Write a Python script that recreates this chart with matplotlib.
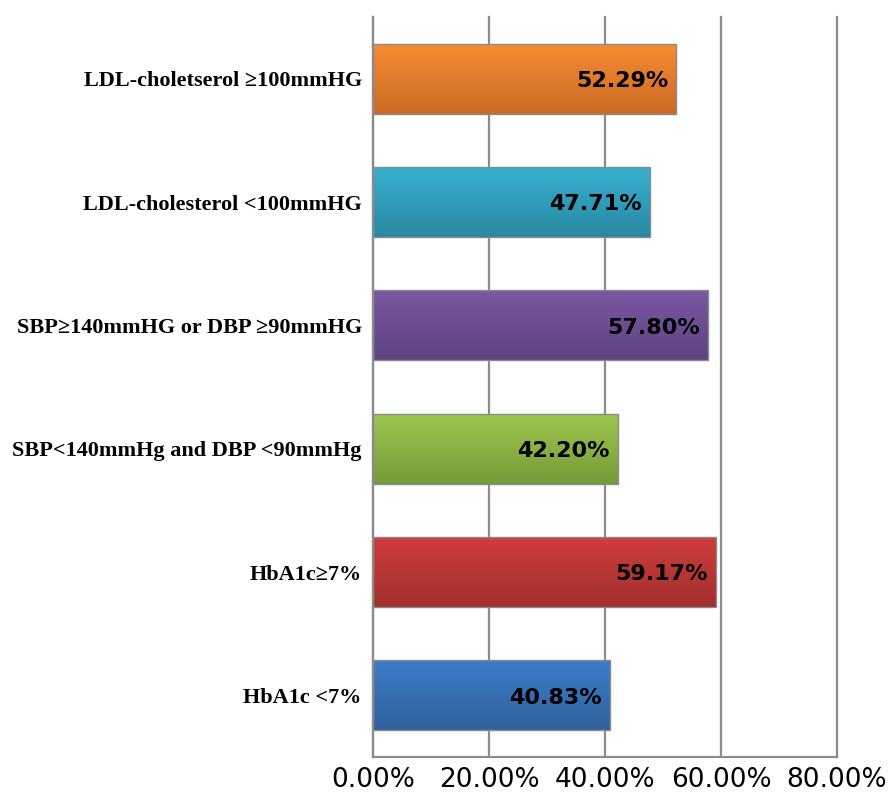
import numpy as np
import matplotlib.pyplot as plt
from matplotlib.colors import LinearSegmentedColormap
from matplotlib.ticker import FuncFormatter

# categories from bottom to top
categories = ["HbA1c <7%", "HbA1c≥7%", "SBP<140mmHg and DBP <90mmHg",
              "SBP≥140mmHG or DBP ≥90mmHG", "LDL-cholesterol <100mmHG",
              "LDL-choletserol ≥100mmHG"]
values = [40.83, 59.17, 42.20, 57.80, 47.71, 52.29]
# (top colour, bottom colour) of the gradient for each bar
colours = [("#3d7dc9", "#30619d"), ("#cd3e3c", "#a22f2e"), ("#9fc64e", "#769a3a"),
           ("#7c57a4", "#5d4480"), ("#36b0d0", "#2a89a2"), ("#f68c33", "#cb6a24")]
xticks = [0, 20, 40, 60, 80]

fig = plt.figure(figsize=(8.91, 7.92), dpi=100)
ax = fig.add_axes([0.4186, 0.0442, 0.5208, 0.9343])

y = np.arange(len(categories))
bars = ax.barh(y, values, height=0.57, color="none", edgecolor="#8a8a8a",
               linewidth=1.0, zorder=3)

grad = np.linspace(0, 1, 256).reshape(-1, 1)
for bar, (top, bottom) in zip(bars, colours):
    x0, y0 = bar.get_x(), bar.get_y()
    w, h = bar.get_width(), bar.get_height()
    cmap = LinearSegmentedColormap.from_list("g", [bottom, top])
    im = ax.imshow(grad, cmap=cmap, aspect="auto", origin="lower",
                   extent=[x0, x0 + w, y0, y0 + h], zorder=2)
    im.set_clip_path(bar)

for yi, v in zip(y, values):
    ax.text(v - 1.4, yi - 0.02, f"{v:.2f}%", ha="right", va="center",
            fontsize=16, fontweight="bold", family="DejaVu Sans", zorder=4)

ax.set_xlim(0, 80)
ax.set_ylim(-0.5, len(categories) - 0.5)
ax.set_xticks(xticks)
ax.xaxis.set_major_formatter(FuncFormatter(lambda v, p: f"{v:.2f}%"))
ax.set_yticks(y)
ax.set_yticklabels(categories, family="Liberation Serif", fontweight="bold",
                   fontsize=16)
ax.tick_params(axis="x", length=0, labelsize=19, pad=7)
ax.tick_params(axis="y", length=0, pad=8)
ax.grid(axis="x", color="#8c8c8c", linewidth=1.6, zorder=0)
for gl in ax.get_xgridlines():
    gl.set_clip_on(False)
ax.set_axisbelow(True)
for s in ["top", "right"]:
    ax.spines[s].set_visible(False)
for s in ["left", "bottom"]:
    ax.spines[s].set_color("#8c8c8c")
    ax.spines[s].set_linewidth(1.6)

fig.savefig("out.png", dpi=100)
